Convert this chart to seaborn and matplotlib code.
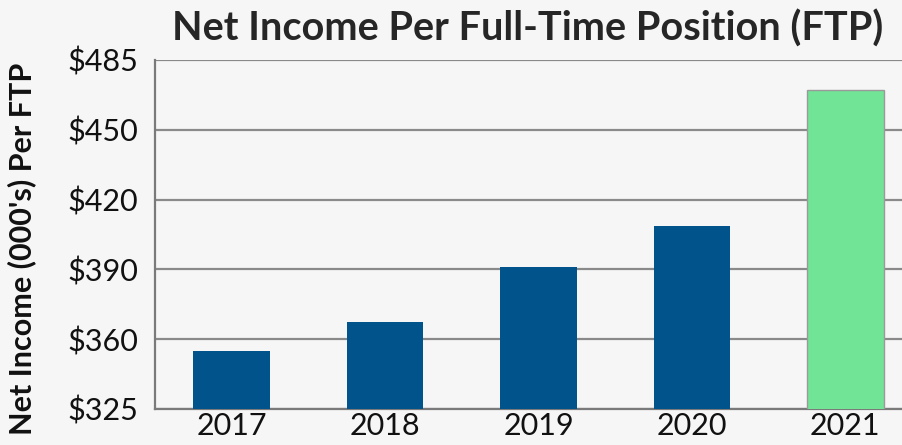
import pandas as pd
import matplotlib.pyplot as plt
import seaborn as sns

# Values (thousands of dollars)
years = ['2017', '2018', '2019', '2020', '2021']
net_income = [351.7, 365.0, 390.2, 409.0, 471.3]
bar_colors = ['#00548B', '#00548B', '#00548B', '#00548B', '#72E495']
ytick_values = [325, 357, 389, 421, 453, 485]
ytick_labels = ['$325', '$360', '$390', '$420', '$450', '$485']

df = pd.DataFrame({'year': years, 'income': net_income})

sns.set_style('white')
plt.rcParams['font.family'] = ['Lato', 'DejaVu Sans']

fig = plt.figure(figsize=(9.03, 4.45), dpi=100)
fig.patch.set_facecolor('#f6f6f6')
ax = fig.add_axes([0.1717, 0.0809, 0.8494, 0.7843])
ax.set_facecolor('#f6f6f6')

sns.barplot(data=df, x='year', y='income', hue='year', palette=bar_colors,
            saturation=1, width=0.5, legend=False, ax=ax, zorder=3,
            linewidth=0)
ax.patches[-1].set_edgecolor('#9a9a9a')
ax.patches[-1].set_linewidth(1)

ax.set_ylim(325, 485)
ax.set_xlim(-0.5, 4.5)
ax.set_yticks(ytick_values)
ax.set_yticklabels(ytick_labels)
ax.yaxis.grid(True, color='#8a8a8a', linewidth=1.6, zorder=0)
ax.set_axisbelow(True)
ax.tick_params(axis='both', length=0, labelsize=22, labelcolor='#111111')
ax.tick_params(axis='y', pad=12)
ax.tick_params(axis='x', pad=2)

for side in ['top', 'right']:
    ax.spines[side].set_visible(False)
for side in ['left', 'bottom']:
    ax.spines[side].set_color('#7a7a7a')
    ax.spines[side].set_linewidth(1.6)

ax.set_xlabel('')
ax.set_ylabel('')
fig.text(0.024, 0.44, "Net Income (000's) Per FTP", rotation=90, ha='center', va='center',
         fontsize=22, fontweight='bold', color='#111111')
fig.text(0.191, 0.935, 'Net Income Per Full-Time Position (FTP)', ha='left', va='center',
         fontsize=28.5, fontweight='bold', color='#262626')

fig.savefig('out.png', dpi=100, facecolor=fig.get_facecolor())
